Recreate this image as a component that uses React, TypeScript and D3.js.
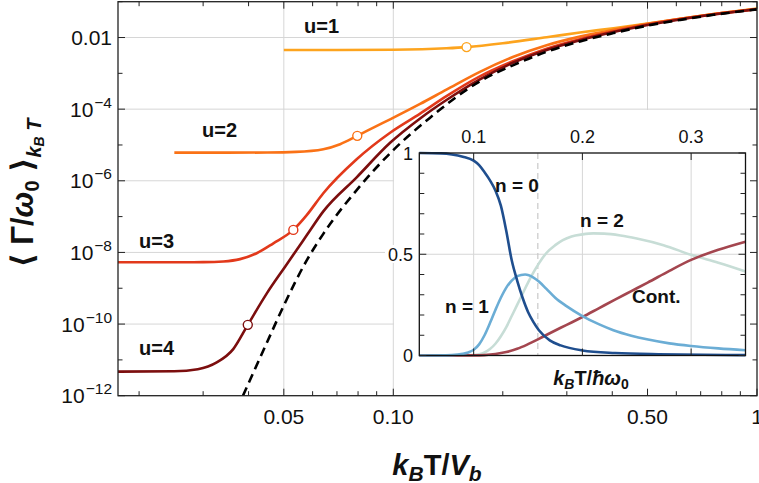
import React from "react";
import * as d3 from "d3";

const W = 759;
const H = 483;

// ---------------- data: main plot ----------------
const classicalX = [0.0386, 0.0449, 0.05, 0.0578, 0.0642, 0.0793, 0.1, 0.126, 0.173, 0.214, 0.264, 0.326, 0.403, 0.5, 0.615, 0.76, 1];
const classicalY = [1e-12, 3.0e-11, 3.3e-10, 6e-9, 3.3e-8, 5.5e-7, 7.2e-6, 5.7e-5, 6e-4, 1.7e-3, 4e-3, 7.8e-3, 0.0133, 0.0215, 0.031, 0.043, 0.061];

const u1X = [0.05, 0.07, 0.1, 0.12, 0.14, 0.159, 0.2, 0.264, 0.326, 0.403, 0.5, 0.615, 0.76, 1];
const u1Y = [4.5e-3, 4.5e-3, 4.55e-3, 4.7e-3, 5.0e-3, 5.4e-3, 6.9e-3, 0.0102, 0.0138, 0.0182, 0.0245, 0.0335, 0.0452, 0.064];

const u2X = [0.025, 0.035, 0.045, 0.054, 0.0642, 0.0714, 0.0796, 0.089, 0.098, 0.1185, 0.14, 0.173, 0.214, 0.264, 0.326, 0.403, 0.5, 0.615, 0.76, 1];
const u2Y = [6.1e-6, 6.1e-6, 6.15e-6, 6.4e-6, 7.6e-6, 1.05e-5, 1.8e-5, 3.2e-5, 5.2e-5, 1.4e-4, 3.5e-4, 1.1e-3, 2.9e-3, 6.1e-3, 0.0106, 0.0164, 0.0242, 0.0336, 0.0452, 0.0625];

const u3X = [0.0175, 0.025, 0.03, 0.0341, 0.0379, 0.0421, 0.0468, 0.0531, 0.0578, 0.0642, 0.0793, 0.098, 0.1185, 0.14, 0.173, 0.214, 0.264, 0.326, 0.403, 0.5, 0.615, 0.76, 1];
const u3Y = [5.3e-9, 5.3e-9, 5.35e-9, 5.6e-9, 6.5e-9, 9.5e-9, 1.8e-8, 4.25e-8, 1.1e-7, 4.5e-7, 4.0e-6, 2.2e-5, 7.5e-5, 2.3e-4, 8.2e-4, 2.2e-3, 4.9e-3, 9e-3, 0.0148, 0.0232, 0.0328, 0.0446, 0.062];

const u4X = [0.0175, 0.025, 0.029, 0.0327, 0.0363, 0.0398, 0.0449, 0.0504, 0.0578, 0.0642, 0.0793, 0.098, 0.1185, 0.14, 0.173, 0.214, 0.264, 0.326, 0.403, 0.5, 0.615, 0.76, 1];
const u4Y = [4.7e-12, 4.8e-12, 5.5e-12, 8.5e-12, 2.0e-11, 9.5e-11, 7.2e-10, 4.0e-9, 3.0e-8, 1.4e-7, 1.25e-6, 1.15e-5, 5.5e-5, 1.8e-4, 6.8e-4, 2.0e-3, 4.5e-3, 8.4e-3, 0.0142, 0.0225, 0.032, 0.044, 0.0615];

const markerX = [0.159, 0.0796, 0.0531, 0.0398];
const markerY = [5.4e-3, 1.8e-5, 4.25e-8, 9.5e-11];
const seriesNames = ["u=1", "u=2", "u=3", "u=4"];

const xMinorTicks = [0.02, 0.03, 0.04, 0.06, 0.07, 0.08, 0.09, 0.2, 0.3, 0.4, 0.6, 0.7, 0.8, 0.9];
const xMajorTicks = [0.05, 0.1, 0.5, 1];
const xTickLabels = ["0.05", "0.10", "0.50", "1"];
const yMajorTicks = [1e-2, 1e-4, 1e-6, 1e-8, 1e-10, 1e-12];
const yTickMantissa = ["0.01", "10", "10", "10", "10", "10"];
const yTickExponent = ["", "−4", "−6", "−8", "−10", "−12"];
const yMinorTicks = [1e-1, 1e-3, 1e-5, 1e-7, 1e-9, 1e-11];

// ---------------- data: inset ----------------
const n0X = [0.05, 0.07, 0.08, 0.09, 0.1, 0.105, 0.11, 0.115, 0.12, 0.125, 0.13, 0.135, 0.14, 0.145, 0.15, 0.155, 0.16, 0.17, 0.18, 0.2, 0.23, 0.27, 0.35];
const n0Y = [1, 0.998, 0.993, 0.982, 0.962, 0.94, 0.905, 0.865, 0.815, 0.74, 0.615, 0.47, 0.37, 0.285, 0.215, 0.165, 0.125, 0.075, 0.05, 0.025, 0.012, 0.006, 0.002];

const n1X = [0.05, 0.08, 0.09, 0.095, 0.1, 0.105, 0.11, 0.115, 0.12, 0.125, 0.13, 0.135, 0.14, 0.1473, 0.155, 0.16, 0.1667, 0.175, 0.185, 0.2, 0.215, 0.2285, 0.245, 0.2593, 0.28, 0.3, 0.325, 0.35];
const n1Y = [0, 0.002, 0.008, 0.015, 0.028, 0.055, 0.1, 0.16, 0.225, 0.285, 0.335, 0.37, 0.392, 0.4, 0.385, 0.365, 0.33, 0.285, 0.245, 0.195, 0.155, 0.125, 0.098, 0.08, 0.06, 0.047, 0.035, 0.026];

const n2X = [0.05, 0.1, 0.105, 0.11, 0.115, 0.12, 0.125, 0.13, 0.135, 0.14, 0.145, 0.15, 0.155, 0.16, 0.1667, 0.175, 0.182, 0.19, 0.2, 0.21, 0.22, 0.235, 0.25, 0.2746, 0.3, 0.325, 0.35];
const n2Y = [0, 0.002, 0.006, 0.015, 0.032, 0.058, 0.095, 0.14, 0.195, 0.25, 0.305, 0.36, 0.41, 0.455, 0.505, 0.545, 0.57, 0.588, 0.598, 0.603, 0.602, 0.593, 0.578, 0.545, 0.497, 0.458, 0.415];

const contX = [0.05, 0.1, 0.11, 0.12, 0.13, 0.14, 0.15, 0.16, 0.17, 0.18, 0.19, 0.2, 0.215, 0.23, 0.245, 0.26, 0.28, 0.3, 0.325, 0.35];
const contY = [0, 0.0005, 0.002, 0.007, 0.017, 0.033, 0.056, 0.082, 0.11, 0.137, 0.163, 0.19, 0.233, 0.276, 0.318, 0.36, 0.418, 0.472, 0.522, 0.562];

const insetXTicks = [0.1, 0.2, 0.3];
const insetXTickLabels = ["0.1", "0.2", "0.3"];
const insetYTicks = [0, 0.5, 1];
const insetYTickLabels = ["0", "0.5", "1"];
const insetYMinor = [0.1, 0.2, 0.3, 0.4, 0.6, 0.7, 0.8, 0.9];
const insetMarkLine = 0.159;

// ---------------- styles ----------------
const FONT = "'Liberation Sans', Arial, 'DejaVu Sans', sans-serif";
const uColors = ["#FDA41E", "#FA7216", "#E2391B", "#7C0E0E"];
const nColors = ["#1F4E8E", "#6BADD5", "#C7DDD6", "#A4464F"];
const GRID = "#d6d6d6";

export default function App() {
  const L = 118, R = 757, T = 1.7, B = 395.7;
  const x = d3.scaleLog().domain([0.0175, 1]).range([L, R]);
  const y = d3.scaleLog().domain([1e-12, 0.1]).range([B, T]);

  const IL = 419.3, IR = 745.5, IT = 153, IB = 355.5;
  const ix = d3.scaleLinear().domain([0.05, 0.35]).range([IL, IR]);
  const iy = d3.scaleLinear().domain([0, 1]).range([IB, IT]);

  const mainLine = (xs: number[], ys: number[]) =>
    d3.line<number>().x((d, i) => x(xs[i])).y((d, i) => y(ys[i])).curve(d3.curveMonotoneX)(xs) || "";
  const insetLine = (xs: number[], ys: number[]) =>
    d3.line<number>().x((d, i) => ix(xs[i])).y((d, i) => iy(ys[i])).curve(d3.curveMonotoneX)(xs) || "";

  const uSeries = [
    [u1X, u1Y],
    [u2X, u2Y],
    [u3X, u3Y],
    [u4X, u4Y],
  ];
  const nSeries = [
    [n2X, n2Y],
    [contX, contY],
    [n1X, n1Y],
    [n0X, n0Y],
  ];
  const nSeriesColors = [nColors[2], nColors[3], nColors[1], nColors[0]];

  const labelPos = [
    [304, 33],
    [202, 137],
    [139, 248],
    [139, 355],
  ];

  return (
    <div style={{ position: "absolute", left: 0, top: 0 }}>
      <svg width={W} height={H} viewBox={`0 0 ${W} ${H}`} style={{ display: "block", fontFamily: FONT }}>
        <defs>
          <clipPath id="plotClip">
            <rect x={L} y={T} width={R - L} height={B - T} />
          </clipPath>
        </defs>
        <rect x={0} y={0} width={W} height={H} fill="white" />

        {/* main grid */}
        {xMajorTicks.slice(0, 3).map((v) => (
          <line key={"gx" + v} x1={x(v)} x2={x(v)} y1={T} y2={B} stroke={GRID} strokeWidth={1} />
        ))}
        {yMajorTicks.slice(0, 5).map((v) => (
          <line key={"gy" + v} x1={L} x2={R} y1={y(v)} y2={y(v)} stroke={GRID} strokeWidth={1} />
        ))}

        {/* inset background (covers grid, not curves) */}
        <rect x={394} y={110} width={R - 394} height={B - 110} fill="white" />
        <rect x={385} y={245} width={10} height={18} fill="white" />

        {/* main curves */}
        <g clipPath="url(#plotClip)">
          {uSeries.map((s, i) => (
            <path key={"u" + i} d={mainLine(s[0], s[1])} fill="none" stroke={uColors[i]} strokeWidth={2.6} />
          ))}
          <path d={mainLine(classicalX, classicalY)} fill="none" stroke="#000" strokeWidth={2.6} strokeDasharray="9,5.5" />
          {markerX.map((v, i) => (
            <circle key={"m" + i} cx={x(v)} cy={y(markerY[i])} r={4.5} fill="white" stroke={uColors[i]} strokeWidth={1.4} />
          ))}
        </g>

        {/* main frame */}
        <rect x={L} y={T} width={R - L} height={B - T} fill="none" stroke="#222" strokeWidth={1.3} />
        {xMajorTicks.map((v) => (
          <g key={"xt" + v}>
            <line x1={x(v)} x2={x(v)} y1={B} y2={B - 7} stroke="#222" strokeWidth={1} />
            <line x1={x(v)} x2={x(v)} y1={T} y2={T + 7} stroke="#222" strokeWidth={1} />
          </g>
        ))}
        {xMinorTicks.map((v) => (
          <g key={"xm" + v}>
            <line x1={x(v)} x2={x(v)} y1={B} y2={B - 4.5} stroke="#222" strokeWidth={1} />
            <line x1={x(v)} x2={x(v)} y1={T} y2={T + 4.5} stroke="#222" strokeWidth={1} />
          </g>
        ))}
        {yMajorTicks.map((v) => (
          <g key={"yt" + v}>
            <line x1={L} x2={L + 7} y1={y(v)} y2={y(v)} stroke="#222" strokeWidth={1} />
            <line x1={R} x2={R - 7} y1={y(v)} y2={y(v)} stroke="#222" strokeWidth={1} />
          </g>
        ))}
        {yMinorTicks.map((v) => (
          <g key={"ym" + v}>
            <line x1={L} x2={L + 4.5} y1={y(v)} y2={y(v)} stroke="#222" strokeWidth={1} />
            <line x1={R} x2={R - 4.5} y1={y(v)} y2={y(v)} stroke="#222" strokeWidth={1} />
          </g>
        ))}

        {/* main tick labels */}
        {xMajorTicks.map((v, i) => (
          <text key={"xl" + v} x={x(v)} y={424} textAnchor="middle" fontSize={21} fill="#111">
            {xTickLabels[i]}
          </text>
        ))}
        {yMajorTicks.map((v, i) => (
          <text key={"yl" + v} x={112} y={y(v) + 7.5} textAnchor="end" fontSize={21} fill="#111">
            <tspan>{yTickMantissa[i]}</tspan>
            {yTickExponent[i] ? (
              <tspan dy={-9} fontSize={15.5} dx={1}>
                {yTickExponent[i]}
              </tspan>
            ) : null}
          </text>
        ))}

        {/* u labels */}
        {seriesNames.map((s, i) => (
          <text key={"ul" + i} x={labelPos[i][0]} y={labelPos[i][1]} fontSize={20} fontWeight="bold" fill="#111">
            {s}
          </text>
        ))}

        {/* axis labels */}
        <text x={437} y={475} textAnchor="middle" fontSize={29} fontWeight="bold" fill="#111">
          <tspan fontStyle="italic">k</tspan>
          <tspan fontSize={21} dy={6} fontStyle="italic">B</tspan>
          <tspan dy={-6}>T/</tspan>
          <tspan fontStyle="italic">V</tspan>
          <tspan fontSize={21} dy={6} fontStyle="italic">b</tspan>
        </text>
        <text transform="translate(33,193) rotate(-90)" textAnchor="middle" fontSize={31} fontWeight="bold" fill="#111">
          <tspan>⟨ Γ/</tspan>
          <tspan fontStyle="italic">ω</tspan>
          <tspan fontSize={20} dy={6}>0</tspan>
          <tspan dy={-6}> ⟩</tspan>
          <tspan fontSize={20} dy={8} fontStyle="italic">k</tspan>
          <tspan fontSize={14} dy={3} fontStyle="italic">B</tspan>
          <tspan fontSize={20} dy={-3} fontStyle="italic"> T</tspan>
        </text>

        {/* ---------- inset ---------- */}
        <rect x={IL} y={IT} width={IR - IL} height={IB - IT} fill="white" />
        {insetXTicks.map((v) => (
          <line key={"igx" + v} x1={ix(v)} x2={ix(v)} y1={IT} y2={IB} stroke={GRID} strokeWidth={1} />
        ))}
        <line x1={IL} x2={IR} y1={iy(0.5)} y2={iy(0.5)} stroke={GRID} strokeWidth={1} />
        <line x1={ix(insetMarkLine)} x2={ix(insetMarkLine)} y1={IT} y2={IB} stroke="#c8c8c8" strokeWidth={1.2} strokeDasharray="6,4" />
        <line x1={IL} x2={IR} y1={iy(0)} y2={iy(0)} stroke="#888" strokeWidth={1} />
        {nSeries.map((s, i) => (
          <path key={"n" + i} d={insetLine(s[0], s[1])} fill="none" stroke={nSeriesColors[i]} strokeWidth={2.6} />
        ))}
        <rect x={IL} y={IT} width={IR - IL} height={IB - IT} fill="none" stroke="#111" strokeWidth={1.3} />
        {insetXTicks.map((v) => (
          <g key={"ixt" + v}>
            <line x1={ix(v)} x2={ix(v)} y1={IT} y2={IT + 7} stroke="#222" strokeWidth={1} />
            <line x1={ix(v)} x2={ix(v)} y1={IB} y2={IB - 7} stroke="#222" strokeWidth={1} />
          </g>
        ))}
        {insetYTicks.map((v) => (
          <g key={"iyt" + v}>
            <line x1={IL} x2={IL + 7} y1={iy(v)} y2={iy(v)} stroke="#222" strokeWidth={1} />
            <line x1={IR} x2={IR - 7} y1={iy(v)} y2={iy(v)} stroke="#222" strokeWidth={1} />
          </g>
        ))}
        {insetYMinor.map((v) => (
          <g key={"iym" + v}>
            <line x1={IL} x2={IL + 5} y1={iy(v)} y2={iy(v)} stroke="#222" strokeWidth={1} />
            <line x1={IR} x2={IR - 5} y1={iy(v)} y2={iy(v)} stroke="#222" strokeWidth={1} />
          </g>
        ))}
        {insetXTicks.map((v, i) => (
          <text key={"ixl" + v} x={ix(v)} y={143} textAnchor="middle" fontSize={18} fill="#111">
            {insetXTickLabels[i]}
          </text>
        ))}
        {insetYTicks.map((v, i) => (
          <text key={"iyl" + v} x={413} y={iy(v) + 6.5} textAnchor="end" fontSize={18} fill="#111">
            {insetYTickLabels[i]}
          </text>
        ))}
        <text x={591} y={385} textAnchor="middle" fontSize={20} fontWeight="bold" fill="#111">
          <tspan fontStyle="italic">k</tspan>
          <tspan fontSize={14} dy={4} fontStyle="italic">B</tspan>
          <tspan dy={-4}>T/</tspan>
          <tspan fontStyle="italic">ħω</tspan>
          <tspan fontSize={14} dy={4}>0</tspan>
        </text>
        <text x={495} y={191.5} fontSize={19} fontWeight="bold" fill="#111">n = 0</text>
        <text x={580} y={227} fontSize={19} fontWeight="bold" fill="#111">n = 2</text>
        <text x={445} y={313} fontSize={19} fontWeight="bold" fill="#111">n = 1</text>
        <text x={632} y={302.5} fontSize={19} fontWeight="bold" fill="#111">Cont.</text>
      </svg>
    </div>
  );
}
